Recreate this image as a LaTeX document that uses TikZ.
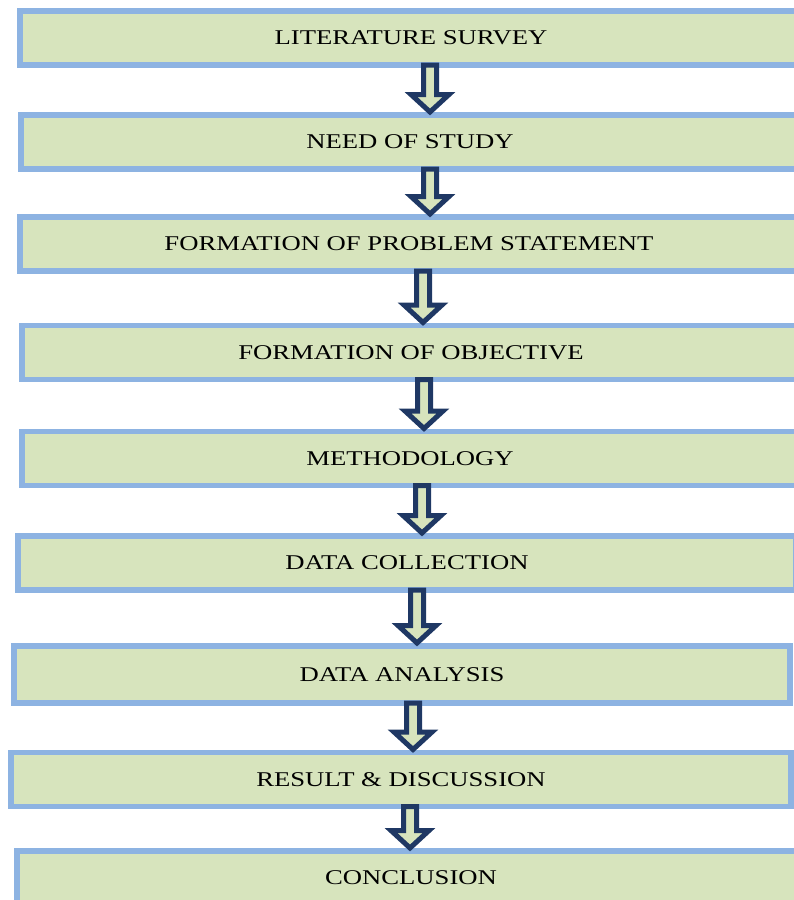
\documentclass[tikz,border=0pt]{standalone}
\usepackage{fontspec}
\setmainfont{Liberation Serif}[FakeStretch=1.27]
\usetikzlibrary{calc}
\definecolor{stepfill}{HTML}{D7E4BD}
\definecolor{stepline}{HTML}{8DB3E2}
\definecolor{arrowline}{HTML}{1F3864}

\begin{document}
\begin{tikzpicture}[x = 1pt, y = -1pt,
		stepbox/.style = {draw = stepline, fill = stepfill, line width = 5.5pt, inner sep = 0pt, outer sep = 0pt, minimum height = 54pt, font = \fontsize{21}{25}\selectfont},
		blockarrow/.style = {draw = arrowline, fill = stepfill, line width = 5pt}]
		\useasboundingbox (0, 0) rectangle (794, 900);
		\clip (0, 0) rectangle (794, 900);
		%%%%%%%%%%%%%
		\node[stepbox, minimum width = 782pt] (s1) at (411, 38) {LITERATURE SURVEY};
		\node[stepbox, minimum width = 778pt] (s2) at (410, 142) {NEED OF STUDY};
		\node[stepbox, minimum width = 778pt] (s3) at (409, 244) {FORMATION OF PROBLEM STATEMENT};
		\node[stepbox, minimum width = 778pt] (s4) at (411, 352.5) {FORMATION OF OBJECTIVE};
		\node[stepbox, minimum width = 776pt] (s5) at (410, 458.5) {METHODOLOGY};
		\node[stepbox, minimum width = 778pt] (s6) at (407, 563) {DATA COLLECTION};
		\node[stepbox, minimum width = 776pt, minimum height = 57pt] (s7) at (402, 674.5) {DATA ANALYSIS};
		\node[stepbox, minimum width = 780pt] (s8) at (401, 779.5) {RESULT \& DISCUSSION};
		\node[stepbox, minimum width = 788pt] (s9) at (411, 878) {CONCLUSION};
		%%%%%%%%%%%%%
		\foreach \a/\b/\x in {s1/s2/430, s2/s3/430, s3/s4/423, s4/s5/424, s5/s6/422, s6/s7/417, s7/s8/413, s8/s9/410} {
			\coordinate (ax) at (\x, 0);
			\draw[blockarrow] ($(ax |- \a.south) + (-6.5, 0)$) -- ($(ax |- \b.north) + (-6.5, -20.5)$)
				-- ($(ax |- \b.north) + (-19, -20.5)$) -- ($(ax |- \b.north) + (0, -3)$)
				-- ($(ax |- \b.north) + (19, -20.5)$) -- ($(ax |- \b.north) + (6.5, -20.5)$)
				-- ($(ax |- \a.south) + (6.5, 0)$) -- cycle;
		}
\end{tikzpicture}
\end{document}
